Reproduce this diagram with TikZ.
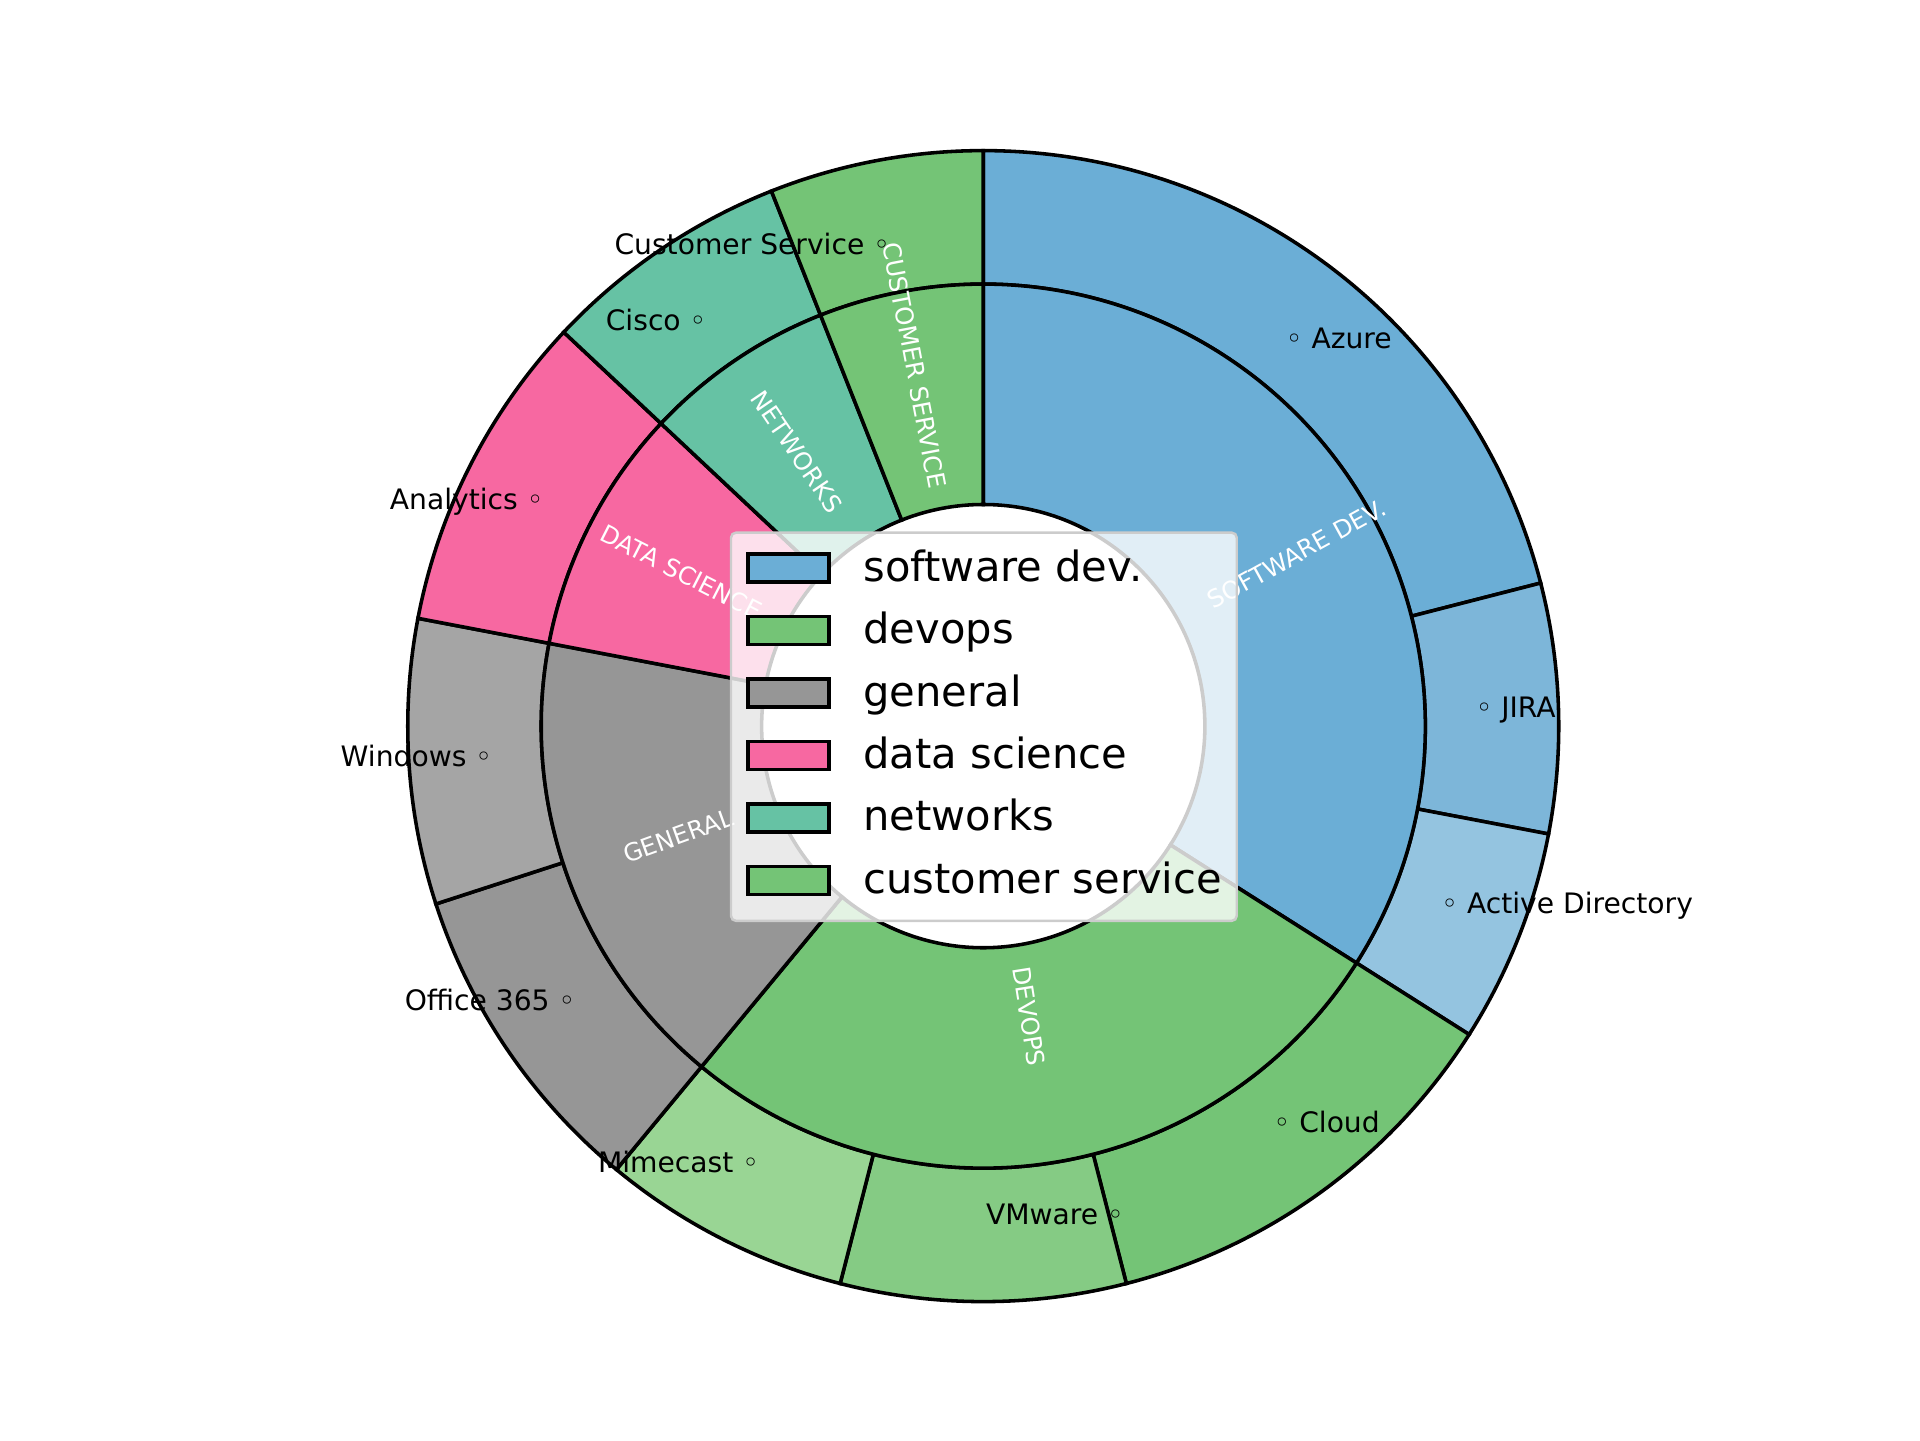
\documentclass[tikz,border=0pt]{standalone}
\usepackage{fontspec}
\setmainfont{DejaVu Sans}
\definecolor{sw}{HTML}{6BAED6}
\definecolor{jira}{HTML}{7DB6D9}
\definecolor{ad}{HTML}{94C4E0}
\definecolor{dv}{HTML}{74C476}
\definecolor{vmw}{HTML}{85CB84}
\definecolor{mime}{HTML}{99D594}
\definecolor{gen}{HTML}{969696}
\definecolor{win}{HTML}{A5A5A5}
\definecolor{ds}{HTML}{F768A1}
\definecolor{nw}{HTML}{66C2A4}
\newcommand{\ringseg}[5]{\draw[seg,fill=#1] (#2:#4) arc[start angle=#2,end angle=#3,radius=#4] -- (#3:#5) arc[start angle=#3,end angle=#2,radius=#5] -- cycle;}
\tikzset{
  seg/.style={line width=2.9pt,line join=miter},
  olab/.style={font=\fontsize{23}{26}\selectfont,inner sep=0pt},
  ilab/.style={font=\fontsize{20}{22}\selectfont,text=white,inner sep=0pt},
  patch/.style={draw,line width=2.9pt,minimum width=66pt,minimum height=23pt,inner sep=0pt},
  ltext/.style={font=\fontsize{34}{38}\selectfont,anchor=west,inner sep=0pt},
}
\begin{document}
\begin{tikzpicture}[x=1pt,y=1pt]
\useasboundingbox (-803,-583) rectangle (765,593);
% outer ring
\ringseg{sw}{90}{14.4}{361}{470}
\ringseg{jira}{14.4}{-10.8}{361}{470}
\ringseg{ad}{-10.8}{-32.4}{361}{470}
\ringseg{dv}{-32.4}{-75.6}{361}{470}
\ringseg{vmw}{-75.6}{-104.4}{361}{470}
\ringseg{mime}{-104.4}{-129.6}{361}{470}
\ringseg{gen}{-129.6}{-162}{361}{470}
\ringseg{win}{-162}{-190.8}{361}{470}
\ringseg{ds}{-190.8}{-223.2}{361}{470}
\ringseg{nw}{-223.2}{-248.4}{361}{470}
\ringseg{dv}{-248.4}{-270}{361}{470}
% inner ring
\ringseg{sw}{90}{-32.4}{181}{361}
\ringseg{dv}{-32.4}{-129.6}{181}{361}
\ringseg{gen}{-129.6}{-190.8}{181}{361}
\ringseg{ds}{-190.8}{-223.2}{181}{361}
\ringseg{nw}{-223.2}{-248.4}{181}{361}
\ringseg{dv}{-248.4}{-270}{181}{361}
% outer labels
\node[olab,anchor=west] (azure) at (247,317) {◦ Azure};
\node[olab,anchor=west] (jiral) at (402,13) {◦ JIRA};
\node[olab,anchor=west] (adl) at (374,-147) {◦ Active Directory};
\node[olab,anchor=west] (cloud) at (237,-323) {◦ Cloud};
\node[olab,anchor=east] (vmware) at (115,-399) {VMware ◦};
\node[olab,anchor=east] (mimecast) at (-183,-356) {Mimecast ◦};
\node[olab,anchor=east] (office) at (-333,-224) {Office 365 ◦};
\node[olab,anchor=east] (windows) at (-401,-24) {Windows ◦};
\node[olab,anchor=east] (analytics) at (-359,183) {Analytics ◦};
\node[olab,anchor=east] (cisco) at (-226,332) {Cisco ◦};
\node[olab,anchor=east] (custs) at (-76,394) {Customer Service ◦};
% inner labels
\node[ilab,rotate=28.8] (l1) at (28.8:292) {SOFTWARE DEV.};
\node[ilab,rotate=-81] (l2) at (-81:240) {DEVOPS};
\node[ilab,rotate=19.8] (l3) at (-160.2:265) {GENERAL};
\node[ilab,rotate=-27] (l4) at (153:277) {DATA SCIENCE};
\node[ilab,rotate=-55.8] (l5) at (124.2:271) {NETWORKS};
\node[ilab,rotate=-79.2] (l6) at (100.8:300) {CUSTOMER SERVICE};
% legend
\node[draw=black!20,line width=2pt,fill=white,fill opacity=0.8,rounded corners=4pt,minimum width=413pt,minimum height=317pt,inner sep=0pt] (legend) at (0.5,-0.5) {};
\foreach \c/\t/\y [count=\i] in {sw/software dev./129,dv/devops/78,gen/general/27,ds/data science/-24,nw/networks/-75,dv/customer service/-126}{
  \node[patch,fill=\c] (p\i) at (-159,\y) {};
  \node[ltext] (t\i) at (-98,\y-3) {\strut\t};
}
\end{tikzpicture}
\end{document}
